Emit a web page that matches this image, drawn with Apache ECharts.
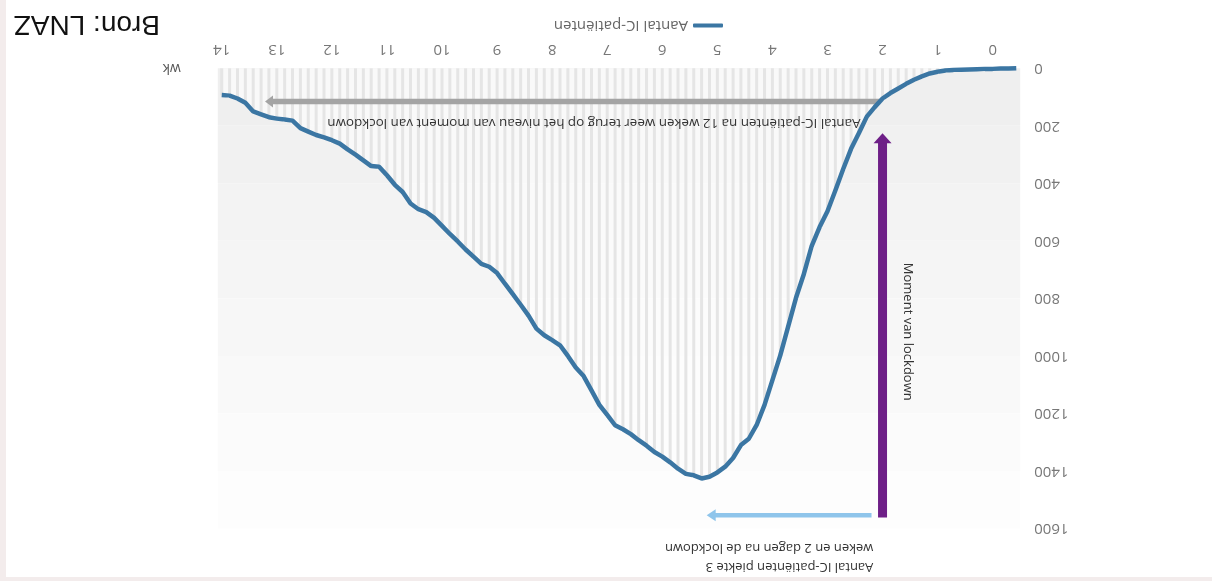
<!DOCTYPE html>
<html><head><meta charset="utf-8">
<script src="https://cdn.jsdelivr.net/npm/echarts@6/dist/echarts.min.js"></script>
<style>
html,body{margin:0;padding:0;background:#fff;overflow:hidden;}
#wrap{position:absolute;left:0;top:0;width:1212px;height:581px;background:#f3ecec;transform:rotate(180deg);}
#chart{position:absolute;left:0;top:4px;width:1206px;height:577px;background:#fff;}
</style></head><body>
<div id="wrap"><div id="chart"></div></div>
<script>
// Daily IC patients, starting three days before week 0
const firstDay = -3;
const icPatients = [
  0, 1, 1, 2, 2, 3, 4, 5, 6, 8,
  12, 18, 28, 40, 54, 70, 86, 105, 135, 168,
  225, 280, 350, 425, 497, 552, 617, 715, 798, 898,
  998, 1084, 1170, 1240, 1288, 1310, 1355, 1385, 1405, 1420,
  1426, 1415, 1410, 1392, 1370, 1350, 1334, 1312, 1293, 1272,
  1255, 1241, 1205, 1170, 1120, 1070, 1040, 1000, 963, 945,
  928, 905, 860, 822, 785, 749, 712, 690, 680, 655,
  630, 602, 576, 548, 520, 500, 490, 470, 430, 405,
  372, 342, 340, 320, 300, 282, 262, 250, 240, 232,
  220, 208, 182, 178, 175, 170, 160, 150, 120, 105,
  95, 93
];
const weekLabels = ['0','1','2','3','4','5','6','7','8','9','10','11','12','13','14'];
const days = icPatients.map((_, i) => firstDay + i);
const seriesName = 'Aantal IC-patiënten';

// annotation anchors (day, value)
const lockdownDay = 14;
const lockdownArrow = { from: 1562, to: 226 };
const returnArrow = { fromDay: 14.3, toDay: 92.5, value: 115 };
const peakArrow = { fromDay: 15.4, toDay: 36.35, value: 1554 };

const lineData = days.map((d, i) => [d, icPatients[i]]);

const chart = echarts.init(document.getElementById('chart'), null, { renderer: 'canvas' });
const font = "'Open Sans', 'DejaVu Sans', sans-serif";

chart.setOption({
  animation: false,
  backgroundColor: '#ffffff',
  grid: { left: 191.8, right: 211.8, top: 48.5, bottom: 68.3 },
  legend: {
    data: [seriesName],
    left: 489, top: 544, padding: 0,
    icon: 'roundRect', itemWidth: 30, itemHeight: 4,
    textStyle: { color: '#666', fontSize: 15, fontFamily: font }
  },
  xAxis: {
    type: 'value', min: -3.5, max: 98.5,
    axisLine: { show: false }, axisTick: { show: false }, splitLine: { show: false },
    axisLabel: {
      customValues: weekLabels.map((w, i) => i * 7),
      formatter: v => weekLabels[Math.round(v / 7)],
      color: '#777', fontSize: 15, fontFamily: font, margin: 12
    },
    name: 'wk', nameLocation: 'end', nameGap: 37,
    nameTextStyle: { color: '#555', fontSize: 14, fontFamily: font, align: 'left', padding: [28, 0, 0, 0] }
  },
  yAxis: {
    type: 'value', min: 0, max: 1600, interval: 200,
    axisLine: { show: false }, axisTick: { show: false }, splitLine: { show: false },
    axisLabel: { color: '#777', fontSize: 15, fontFamily: font, margin: 14, formatter: v => String(v) },
    splitArea: { show: true, areaStyle: { color: ['#efefef','#f1f1f1','#f3f3f3','#f5f5f5','#f7f7f7','#f9f9f9','#fbfbfb','#fdfdfd'] } }
  },
  series: [
    {
      name: 'area', type: 'line', data: lineData, z: 1, silent: true,
      showSymbol: false, symbol: 'none', lineStyle: { width: 0 },
      areaStyle: { color: '#ffffff', opacity: 0.6 }
    },
    {
      name: 'stripes', type: 'bar', data: lineData, z: 2, silent: true,
      barWidth: 3, itemStyle: { color: '#e5e5e5' }
    },
    {
      name: seriesName, type: 'line', data: lineData, z: 5,
      showSymbol: false, symbol: 'none', smooth: false,
      lineStyle: { color: '#3b76a3', width: 4.5 },
      itemStyle: { color: '#3b76a3' }
    }
  ]
});

function px(d, v) { return chart.convertToPixel({ gridIndex: 0 }, [d, v]); }

const pTop = px(lockdownDay, lockdownArrow.from);
const pTip = px(lockdownDay, lockdownArrow.to);
const gA = px(returnArrow.fromDay, returnArrow.value);
const gB = px(returnArrow.toDay, returnArrow.value);
const bA = px(peakArrow.fromDay, peakArrow.value);
const bB = px(peakArrow.toDay, peakArrow.value);
const tGray = px(16.8, 188);
const tBlue = px(15.17, 1699);
const tMoment = px(10.83, 916);

const annFont = { fontFamily: font, fontSize: 13, fill: '#333' };

chart.setOption({
  graphic: [
    { type: 'line', z: 6, shape: { x1: pTop[0], y1: pTop[1], x2: pTip[0], y2: pTip[1] - 9 },
      style: { stroke: '#6e1f87', lineWidth: 9 } },
    { type: 'polygon', z: 6, shape: { points: [[pTip[0] - 9, pTip[1] - 10], [pTip[0] + 9, pTip[1] - 10], [pTip[0], pTip[1]]] },
      style: { fill: '#6e1f87' } },
    { type: 'line', z: 4, shape: { x1: gA[0], y1: gA[1], x2: gB[0] - 6, y2: gB[1] },
      style: { stroke: '#a4a4a4', lineWidth: 5.5 } },
    { type: 'polygon', z: 4, shape: { points: [[gB[0] - 8, gB[1] - 6], [gB[0] - 8, gB[1] + 6], [gB[0], gB[1]]] },
      style: { fill: '#a4a4a4' } },
    { type: 'line', z: 6, shape: { x1: bA[0], y1: bA[1], x2: bB[0] - 7, y2: bB[1] },
      style: { stroke: '#8fc5eb', lineWidth: 4.5 } },
    { type: 'polygon', z: 6, shape: { points: [[bB[0] - 9, bB[1] - 6], [bB[0] - 9, bB[1] + 6], [bB[0], bB[1]]] },
      style: { fill: '#8fc5eb' } },
    { type: 'text', z: 6, x: tGray[0], y: tGray[1],
      style: Object.assign({ text: 'Aantal IC-patiënten na 12 weken weer terug op het niveau van moment van lockdown', verticalAlign: 'middle', align: 'left' }, annFont, { fontSize: 13.4 }) },
    { type: 'text', z: 6, x: tBlue[0], y: tBlue[1],
      style: Object.assign({ text: 'Aantal IC-patiënten piekte 3\nweken en 2 dagen na de lockdown', verticalAlign: 'middle', align: 'left', lineHeight: 19 }, annFont) },
    { type: 'text', z: 6, x: tMoment[0], y: tMoment[1], rotation: Math.PI / 2,
      style: Object.assign({ text: 'Moment van lockdown', verticalAlign: 'middle', align: 'center' }, annFont) },
    { type: 'text', z: 6, left: 1052, top: 539,
      style: { text: 'Bron: LNAZ', fontFamily: "'Liberation Sans', Arial, sans-serif", fontSize: 28, fill: '#111' } }
  ]
});
</script>
</body></html>
